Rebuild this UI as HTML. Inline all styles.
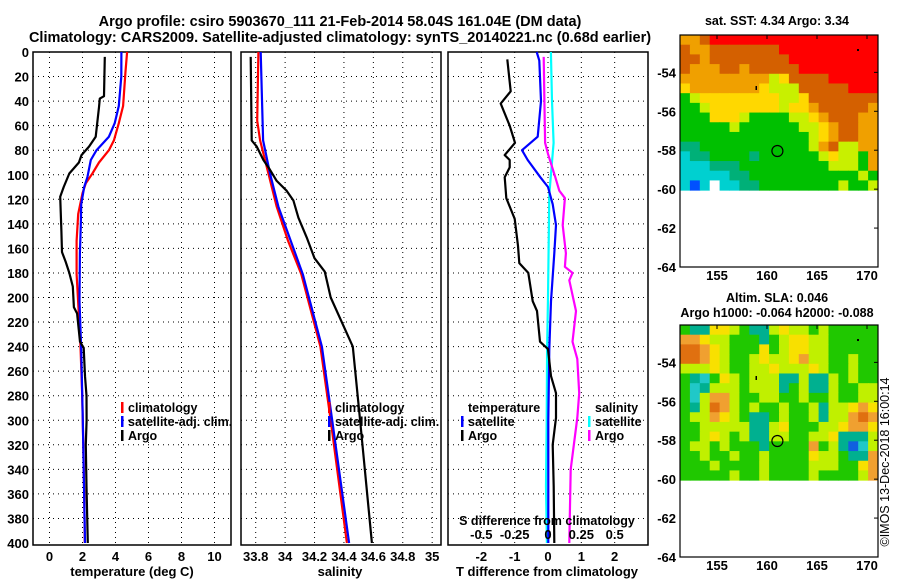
<!DOCTYPE html>
<html><head><meta charset="utf-8"><style>
body{margin:0;background:#fff;}
svg{display:block;font-family:"Liberation Sans",sans-serif;font-weight:bold;}
</style></head><body>
<svg id="c" width="900" height="580" viewBox="0 0 900 580" xmlns="http://www.w3.org/2000/svg">
<text x="340" y="26" font-size="14.5" text-anchor="middle">Argo profile: csiro 5903670_111 21-Feb-2014 58.04S 161.04E (DM data)</text>
<text x="340" y="42" font-size="14.5" text-anchor="middle">Climatology: CARS2009. Satellite-adjusted climatology: synTS_20140221.nc (0.68d earlier)</text>
<g id="g"></g>
</svg>
<script>
// ---------- data ----------
const depthTicks=[0,20,40,60,80,100,120,140,160,180,200,220,240,260,280,300,320,340,360,380,400];
const tTicks=[0,2,4,6,8,10];
const sTicks=[33.8,34,34.2,34.4,34.6,34.8,35];
const sTickLabels=["33.8","34","34.2","34.4","34.6","34.8","35"];
const dTTicks=[-2,-1,0,1,2];
const dSTicks=[-0.5,-0.25,0,0.25,0.5];
const dSTickLabels=["-0.5","-0.25","0","0.25","0.5"];

const climTDepth=[0,17,44,58,72,80,90,99,107,115,132,154,181,200,240,280,320,360,400];
const climT=[4.7,4.6,4.46,4.2,3.9,3.6,3.0,2.6,2.2,2.0,1.74,1.64,1.64,1.72,1.88,1.98,2.05,2.1,2.14];
const satTDepth=[0,20,44,58,69,80,88,102,110,124,141,164,203,242,300,400];
const satT=[4.36,4.35,4.2,3.95,3.6,2.85,2.5,2.3,2.1,1.92,1.9,1.84,1.82,1.92,2.02,2.15];
const argoTDepth=[4,36,38,45,69,77,84,90,99,110,118,146,163,171,180,191,208,213,236,241,264,280,300,320,354,400];
const argoT=[3.35,3.3,3.05,3.0,2.8,2.4,1.94,1.78,1.2,0.86,0.65,0.72,0.76,0.98,1.2,1.41,1.48,1.67,1.85,2.07,2.15,2.24,2.25,2.2,2.24,2.32];

const argoSDepth=[4,72,77,88,96,105,113,121,135,151,168,179,200,240,300,400];
const argoS=[33.766,33.773,33.807,33.852,33.897,33.943,34.01,34.056,34.09,34.147,34.2,34.27,34.31,34.46,34.51,34.59];
const climSDepth=[0,56,72,99,126,154,181,240,300,400];
const climS=[33.818,33.81,33.83,33.886,33.943,34.02,34.11,34.24,34.31,34.42];
const satSDepth=[0,72,99,126,181,240,300,400];
const satS=[33.834,33.85,33.897,33.954,34.12,34.25,34.32,34.435];

const dArgoTDepth=[6,32,42,60,74,84,88,94,102,119,136,158,172,180,203,211,236,242,264,278,298,320,354,400];
const dArgoT=[-1.22,-1.12,-1.42,-1.15,-0.99,-1.3,-1.15,-1.15,-1.3,-1.25,-1.0,-0.9,-0.86,-0.59,-0.46,-0.33,-0.24,0,0.09,0.24,0.24,0.14,0.17,0.19];
const dSatTDepth=[0,7,40,69,80,88,102,110,124,141,164,203,242,300,400];
const dSatT=[-0.34,-0.26,-0.21,-0.31,-0.78,-0.61,-0.23,0,0.14,0.24,0.19,0.09,0.04,0.01,0.01];
const dSatSDepth=[0,40,74,116,200,242,300,354,400];
const dSatS=[0.022,0.03,0.042,0.01,0.0,-0.007,-0.01,-0.015,-0.008];
const dArgoSDepth=[4,40,74,83,102,113,119,141,164,175,180,186,211,236,250,278,298,340,400];
const dArgoS=[-0.032,-0.027,-0.022,0,0.055,0.085,0.127,0.11,0.134,0.127,0.184,0.16,0.21,0.184,0.22,0.234,0.22,0.17,0.16];

const sstRows=["AAORRRRRRRRRRRRRRRRR","OAAOOOOOOORRRRRRRRRR","OOAOOOOOOOORRRRRRRRR","OAAAOOAOOOOORRRRRRRR","AAAAAAAAALYOOOORRRRR","YAAAAAAAYLLLOOOOORRR","GLYYYYYYYYLLYOOOOOOO","GGLYYYYYYYLYYAOOOOOA","GGGYYYLGGGGLLYAOOOAA","GGGGGLGGGGGGLLYAOOAA","GGGGGGGGGGGGGLYAOOAA","TTGGGGGGGGGGGLAOLLAA","CTTGGGGTGGGGGGLYLLGA","CCCTTTGGGGGGGGGLLLGA","CCCCCTTGGGGGGGGGGGLG","CBCWCCTTGGGGGGGGLGGL"];
const slaRows=["GTTYYLGTTLYLLGLGGGGG","AAYLLGGGTGLYYLLGGGGG","OOAYLGGGYGLYYLLGGGGG","OOAYLGGLYLLYALLGGLGG","LLLYLGGLLYLLLYLGGLGG","GTCGYLGLLLTTLTTLGLGG","GCTLLLGLLLTGLTTLGGLL","GCLAALGGLLGGLGGLGGLL","GTLOALGLGGLGGLTLLYAY","GLLAYLGTTGLGGLTLLAOA","GGLLLLLTTLYGGGLLYAAY","GGLYLGLTTLLGGLLYTTTL","GLLGLGGGTGGGGAGLTBCL","GGLGGLGGLGGGGYLLGTTA","GGGLGGGGLGGGGLLLGGYA","GGGGGLGGLGGGGLGGGGLA"];
const latTicks=[-54,-56,-58,-60,-62,-64];
const lonTicks=[155,160,165,170];

// ---------- drawing ----------
const NS="http://www.w3.org/2000/svg";
const G=document.getElementById('g');
function mk(tag,attrs,parent){const e=document.createElementNS(NS,tag);for(const k in attrs)e.setAttribute(k,attrs[k]);(parent||G).appendChild(e);return e;}
const TOP=52,BOT=543;
function yD(d){return TOP+d*(BOT-TOP)/400;}

function panel(name,x0,x1,vmin,vmax){
  const xs=v=>x0+(v-vmin)*(x1-x0)/(vmax-vmin);
  const box=mk('rect',{x:x0,y:TOP,width:x1-x0,height:BOT-TOP+2,fill:'none',stroke:'#000','stroke-width':1.5});
  
  
  depthTicks.forEach(d=>{if(d>0&&d<400){const l=mk('line',{x1:x0,x2:x1,y1:yD(d),y2:yD(d),stroke:'#000','stroke-dasharray':'1 4'});
    
    }});
  return xs;
}
function vgrid(name,xs,vals){vals.forEach(v=>{const l=mk('line',{x1:xs(v),x2:xs(v),y1:TOP,y2:BOT,stroke:'#000','stroke-dasharray':'1 4'});
  
  });}
function xlabels(name,xs,vals,labs,y){vals.forEach((v,i)=>{const t=mk('text',{x:xs(v),y:y,'font-size':13,'text-anchor':'middle'});t.textContent=labs?labs[i]:String(v);
  
  });}
function line(name,xs,depths,vals,color,w){const pts=depths.map((d,i)=>xs(vals[i]).toFixed(1)+','+yD(d).toFixed(1)).join(' ');
  const p=mk('polyline',{points:pts,fill:'none',stroke:color,'stroke-width':w||2.2,'stroke-linejoin':'round'});
  
  }
function txt(name,x,y,s,size,anchor){const t=mk('text',{x:x,y:y,'font-size':size||13,'text-anchor':anchor||'start'});t.textContent=s;
  
  return t;}
function legend(name,x,y,color,label){const r=mk('rect',{x:x,y:y-10,width:2.5,height:11,fill:color});
  
  
  txt(name,x+7,y,label,12.5);}

// depth axis labels
depthTicks.forEach(d=>{txt('depth-tick-label',29,yD(d)+5,String(d),13,'end');});

// Panel 1 temperature
const xT=panel('temperature-panel',33,231,-1,11);
vgrid('temperature',xT,tTicks);
xlabels('temperature',xT,tTicks,null,561);
txt('temperature-axis-title',132,576,'temperature (deg C)',13,'middle');
line('climatology-temperature-line',xT,climTDepth,climT,'#f00');
line('satellite-temperature-line',xT,satTDepth,satT,'#00f');
line('argo-temperature-line',xT,argoTDepth,argoT,'#000');
legend('legend-climatology',121,412,'#f00','climatology');
legend('legend-satellite-adj',121,426,'#00f','satellite-adj. clim.');
legend('legend-argo',121,440,'#000','Argo');

// Panel 2 salinity
const xS=panel('salinity-panel',241,441,33.7,35.06);
vgrid('salinity',xS,sTicks);
xlabels('salinity',xS,sTicks,sTickLabels,561);
txt('salinity-axis-title',340,576,'salinity',13,'middle');
line('climatology-salinity-line',xS,climSDepth,climS,'#f00');
line('satellite-salinity-line',xS,satSDepth,satS,'#00f');
line('argo-salinity-line',xS,argoSDepth,argoS,'#000');
legend('legend-s-climatology',328,412,'#f00','climatology');
legend('legend-s-satellite-adj',328,426,'#00f','satellite-adj. clim.');
legend('legend-s-argo',328,440,'#000','Argo');

// Panel 3 differences
const xDT=panel('difference-panel',448,648,-3,3);
const xDS=v=>xDT(v*4);
vgrid('t-difference',xDT,dTTicks);
xlabels('t-difference',xDT,dTTicks,["-2","-1","0","1","2"],561);
txt('t-difference-axis-title',547,576,'T difference from climatology',13,'middle');
line('satellite-salinity-diff-line',xDS,dSatSDepth,dSatS,'#0ff');
line('argo-salinity-diff-line',xDS,dArgoSDepth,dArgoS,'#f0f');
line('satellite-temperature-diff-line',xDT,dSatTDepth,dSatT,'#00f');
line('argo-temperature-diff-line',xDT,dArgoTDepth,dArgoT,'#000');
txt('legend-temperature-heading',468,412,'temperature',12.5);
legend('legend-t-satellite',461,426,'#00f','satellite');
legend('legend-t-argo',461,440,'#000','Argo');
txt('legend-salinity-heading',595,412,'salinity',12.5);
legend('legend-s-diff-satellite',588,426,'#0ff','satellite');
legend('legend-s-diff-argo',588,440,'#f0f','Argo');
txt('s-difference-axis-title',547,525,'S difference from climatology',12.5,'middle');
xlabels('s-difference',xDS,dSTicks,dSTickLabels,539);

// maps
const sstColors={R:'#ff0000',O:'#d46000',A:'#f0a000',Y:'#ffd800',L:'#c8f000',G:'#00c000',T:'#00b078',C:'#00d0d0',B:'#0050ff',W:'#ffffff'};
const slaColors={G:'#20c800',T:'#00b090',L:'#c0f000',Y:'#f8e000',A:'#f0a030',O:'#e07010',C:'#20c8c8',B:'#1060e0'};
function map(name,oy,rows,colors,t1,t2){
  const L=680,R=878,T=oy+35,B=oy+267;
  const lx=lon=>L+(lon-151.3)*(R-L)/19.8;
  const ly=lat=>T+(-52.08-lat)*(B-T)/11.92;
  const cw=(R-L)/20,ch=(ly(-60.05)-T)/16;
  rows.forEach((row,r)=>{for(let c=0;c<row.length;c++){
    const cell=mk('rect',{x:(L+c*cw).toFixed(2),y:(T+r*ch).toFixed(2),width:(cw+0.5).toFixed(2),height:(ch+0.5).toFixed(2),fill:colors[row[c]]});
    
    }});
  const f=mk('rect',{x:L,y:T,width:R-L,height:B-T,fill:'none',stroke:'#000','stroke-width':1.2});
  
  
  latTicks.forEach(lat=>{txt(name+'-lat-label',676,ly(lat)+5,String(lat),13,'end');
    const tk=mk('line',{x1:R-4,x2:R,y1:ly(lat),y2:ly(lat),stroke:'#000'});
    
    });
  lonTicks.forEach(lon=>{txt(name+'-lon-label',lx(lon),B+13,String(lon),13,'middle');
    const tk=mk('line',{x1:lx(lon),x2:lx(lon),y1:T,y2:T+4,stroke:'#000'});
    
    });
  const ci=mk('circle',{cx:lx(161.04),cy:ly(-58.04),r:5.5,fill:'none',stroke:'#000','stroke-width':1.2});
  
  
  const m1=mk('rect',{x:lx(169),y:ly(-52.8),width:2,height:2,fill:'#000'});
  
  
  const m2=mk('rect',{x:lx(158.85),y:ly(-54.7),width:1.5,height:4,fill:'#000'});
  
  
  if(t2){txt(name+'-title',777,oy+12,t1,12.5,'middle');txt(name+'-subtitle',777,oy+27,t2,12.5,'middle');}
  else txt(name+'-title',777,oy+25,t1,12.5,'middle');
}
map('sst-map',0,sstRows,sstColors,'sat. SST: 4.34 Argo: 3.34');
map('sla-map',290,slaRows,slaColors,'Altim. SLA: 0.046','Argo h1000: -0.064 h2000: -0.088');
const cr=txt('copyright-label',0,0,'©IMOS 13-Dec-2018 16:00:14',12.5,'middle');
cr.setAttribute('font-weight','normal');
cr.setAttribute('transform','translate(889,462) rotate(-90)');
</script>
</body></html>
